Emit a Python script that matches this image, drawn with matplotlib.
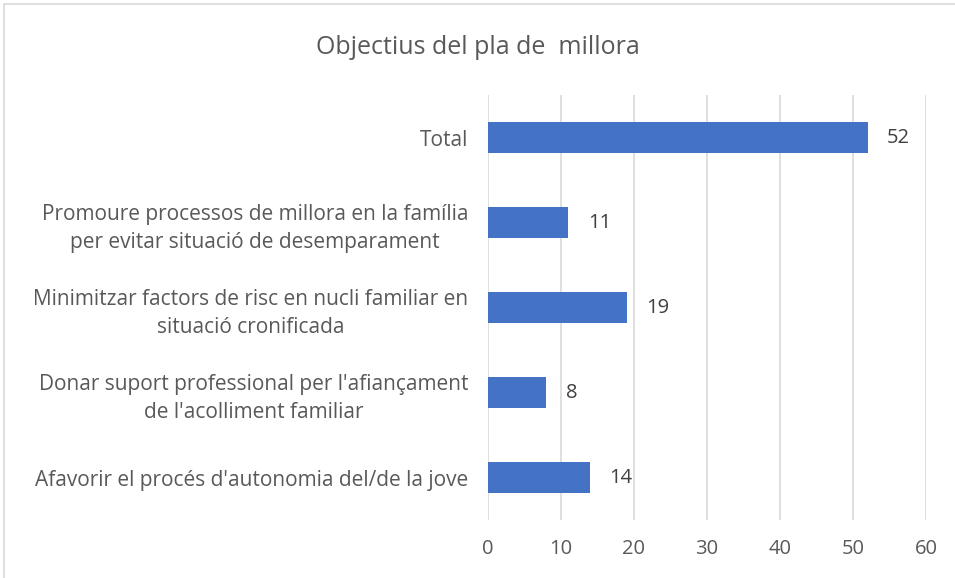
import numpy as np
import matplotlib.pyplot as plt
from matplotlib.patches import Rectangle

categories = [
    "Afavorir el procés d'autonomia del/de la jove",
    "Donar suport professional per l'afiançament\nde l'acolliment familiar",
    "Minimitzar factors de risc en nucli familiar en\nsituació cronificada",
    "Promoure processos de millora en la família\nper evitar situació de desemparament",
    "Total",
]
values = [14, 8, 19, 11, 52]

plt.rcParams['font.family'] = ['Open Sans', 'DejaVu Sans']
text_color = '#595959'

fig = plt.figure(figsize=(9.55, 5.78), dpi=100)
ax = fig.add_axes([0.511, 0.1003, 0.4586, 0.7353])

# light frame around the chart like the spreadsheet export
fig.patches.append(Rectangle((4 / 955, -0.05), 1.1, 1 - 4 / 578 + 0.05,
                             transform=fig.transFigure, fill=False,
                             edgecolor='#d9d9d9', linewidth=1.2))

y = np.arange(len(categories))
rects = ax.barh(y, values, height=0.365, color='#4472C4', zorder=3)
ax.bar_label(rects, padding=14, fontsize=14.5, color='#404040')

ax.set_xlim(0, 60)
ax.set_ylim(-0.5, len(categories) - 0.5)
ax.set_xticks(np.arange(0, 61, 10))
ax.set_yticks(y, categories)
ax.grid(axis='x', color='#d9d9d9', linewidth=1.2, zorder=0)
for s in ax.spines.values():
    s.set_visible(False)
ax.tick_params(axis='both', length=0, colors=text_color)
ax.tick_params(axis='x', pad=14, labelsize=14.5)
ax.tick_params(axis='y', pad=14, labelsize=15)
for lbl in ax.get_yticklabels():
    lbl.set_multialignment('center')
    lbl.set_linespacing(1.45)

fig.text(0.5, 1 - 47 / 578, "Objectius del pla de  millora", ha='center', va='center',
         fontsize=18, color=text_color)

fig.savefig('out.png', dpi=100)
